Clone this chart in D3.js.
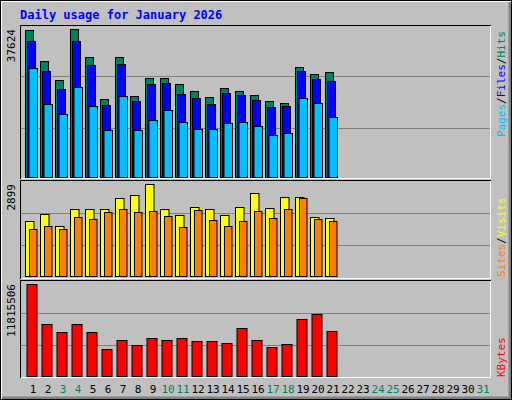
<!DOCTYPE html>
<html>
<head>
<meta charset="utf-8">
<script src="https://cdn.jsdelivr.net/npm/d3@7"></script>
<style>
  body { margin: 0; background: #fff; }
  text { font-family: "DejaVu Sans Mono", monospace; }
</style>
</head>
<body>
<svg id="chart" width="512" height="400"></svg>
<script>
// Daily values (days 1-21)
const days = d3.range(1, 32);
const weekendDays = [3, 4, 10, 11, 17, 18, 24, 25, 31];
const hits = [37370, 29490, 24660, 37624, 30500, 19830, 30500, 20590, 25170, 25170, 23640,
  21860, 20340, 22620, 21860, 20850, 19320, 18810, 27960, 26180, 26690];
const files = [34570, 26950, 22370, 34570, 28470, 18300, 28720, 19320, 23640, 23890, 21100,
  20080, 18560, 21350, 20850, 19570, 17790, 18050, 26950, 24910, 24400];
const pages = [27710, 18560, 16010, 22880, 18050, 11950, 20590, 11950, 14490, 17030, 13980,
  12200, 12200, 13730, 13980, 12960, 10680, 11180, 20080, 18810, 15250];
const visits = [1733, 1953, 1575, 2111, 2111, 2111, 2457, 2552, 2899, 2111, 1922,
  2174, 2111, 1922, 2174, 2615, 2142, 2489, 2489, 1859, 1827];
const sites = [1481, 1575, 1481, 1859, 1796, 2016, 2111, 2016, 2048, 1890, 1544,
  2079, 1764, 1575, 1733, 2048, 1827, 2111, 2457, 1796, 1733];
const kbytes = [11815506, 6616600, 5714300, 6616600, 5714300, 3523100, 4683200, 4038700,
  4941000, 4683200, 4941000, 4554300, 4554300, 4296500, 6101000, 4683200, 3780900,
  4167600, 7261100, 7905600, 5843200];

const svg = d3.select("#chart");
const W = 512, H = 400;

// background and bevel
svg.append("rect").attr("width", W).attr("height", H).attr("fill", "#c0c0c0");
svg.append("path").attr("d", `M1,${H - 1}V1H${W - 1}`).attr("stroke", "#fff").attr("stroke-width", 2).attr("fill", "none");
svg.append("path").attr("d", `M2,${H - 2}H${W - 2}V2`).attr("stroke", "#808080").attr("stroke-width", 3).attr("fill", "none");
svg.append("rect").attr("x", 0.5).attr("y", 0.5).attr("width", W - 1).attr("height", H - 1)
  .attr("fill", "none").attr("stroke", "#000");

svg.append("text").attr("x", 20).attr("y", 19).attr("fill", "#0000ff")
  .attr("font-size", 12).attr("font-weight", "bold").text("Daily usage for January 2026");

const x = d3.scaleLinear().domain([1, 32]).range([25, 490]);
const left = 20, right = 491;

const panels = [
  { top: 25, bottom: 179, base: 177, peak: 29, max: 37624, label: "37624" },
  { top: 180, bottom: 279, base: 276, peak: 184, max: 2899, label: "2899" },
  { top: 280, bottom: 378, base: 376, peak: 284, max: 11815506, label: "11815506" }
];

panels.forEach(p => {
  const g = svg.append("g");
  g.append("path").attr("d", `M${left + 0.5},${p.bottom}V${p.top + 0.5}H${right}`)
    .attr("stroke", "#000").attr("fill", "none");
  g.append("path").attr("d", `M${left + 1},${p.bottom - 0.5}H${right - 0.5}V${p.top + 1}`)
    .attr("stroke", "#fff").attr("fill", "none");
  p.y = d3.scaleLinear().domain([0, p.max]).range([p.base, p.peak]);
  [0.683, 0.333].forEach(f => {
    const gy = Math.round(p.y(p.max * f)) + 0.5;
    g.append("line").attr("x1", left + 1).attr("x2", right - 1).attr("y1", gy).attr("y2", gy)
      .attr("stroke", "#808080");
  });
  g.append("text").attr("transform", `translate(15,${p.y(p.max)}) rotate(-90)`)
    .attr("text-anchor", "end").attr("font-size", 11).attr("fill", "#000").text(p.label);
});

function bars(panel, data, dx, w, color) {
  svg.append("g").selectAll("rect").data(data).join("rect")
    .attr("x", (d, i) => x(i + 1) + dx + 0.5)
    .attr("y", d => Math.round(panel.y(d)) + 0.5)
    .attr("width", w)
    .attr("height", d => panel.base - Math.round(panel.y(d)))
    .attr("fill", color).attr("stroke", "#000");
}

bars(panels[0], hits, 0, 8, "#00805c");
bars(panels[0], files, 2, 8, "#0000ff");
bars(panels[0], pages, 3.5, 8.5, "#00c0ff");
bars(panels[1], visits, 0, 8.5, "#ffff00");
bars(panels[1], sites, 4, 7.5, "#ff8000");
bars(panels[2], kbytes, 1.5, 10, "#ff0000");

// day labels
svg.append("g").selectAll("text").data(days).join("text")
  .attr("x", d => x(d) + 8).attr("y", 393).attr("text-anchor", "middle")
  .attr("font-size", 11)
  .attr("fill", d => weekendDays.includes(d) ? "#00805c" : "#000")
  .text(d => d);

// right side legends (rotated)
function legend(yBottom, parts) {
  const t = svg.append("text").attr("transform", `translate(505,${yBottom}) rotate(-90)`)
    .attr("font-size", 11);
  parts.forEach(([s, c]) => t.append("tspan").attr("fill", c).text(s));
}
legend(137, [["Pages", "#00c0ff"], ["/", "#000"], ["Files", "#0000ff"], ["/", "#000"], ["Hits", "#00805c"]]);
legend(277, [["Sites", "#ff8000"], ["/", "#000"], ["Visits", "#ffff00"]]);
legend(377, [["KBytes", "#ff0000"]]);
</script>
</body>
</html>
